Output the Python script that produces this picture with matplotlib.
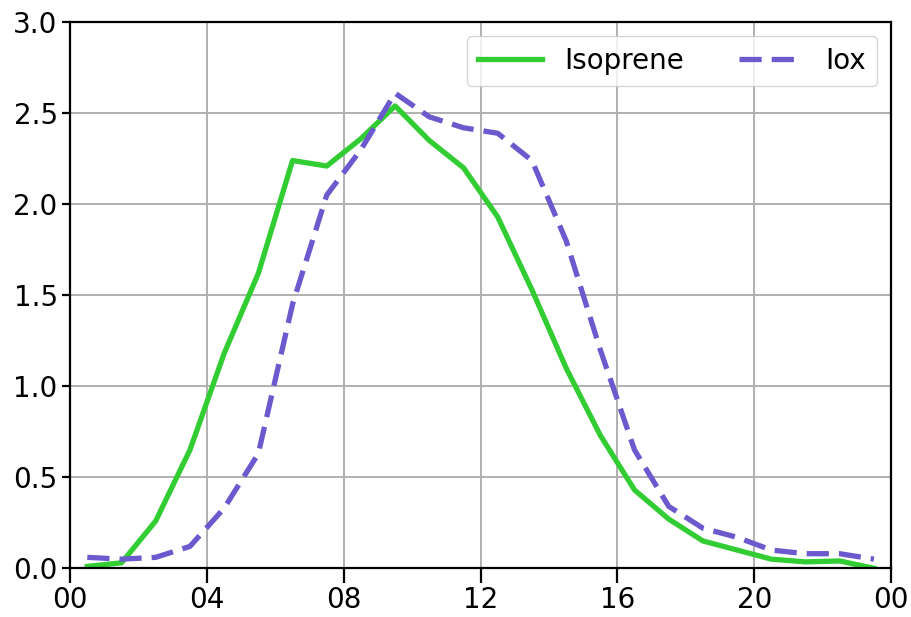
import numpy as np
import matplotlib
matplotlib.use("Agg")
import matplotlib.pyplot as plt

# Hourly means, plotted at the middle of each hour
hours = np.arange(24) + 0.5
isoprene = [0.01, 0.03, 0.26, 0.65, 1.18, 1.62, 2.24, 2.21, 2.36, 2.54, 2.35, 2.20,
            1.93, 1.53, 1.10, 0.73, 0.43, 0.27, 0.15, 0.10, 0.05, 0.035, 0.04, 0.0]
iox = [0.06, 0.05, 0.06, 0.12, 0.33, 0.63, 1.45, 2.05, 2.30, 2.61, 2.48, 2.42,
       2.39, 2.24, 1.80, 1.20, 0.65, 0.34, 0.22, 0.17, 0.10, 0.08, 0.08, 0.05]

tick_pos = [0, 4, 8, 12, 16, 20, 24]
tick_labels = ["00", "04", "08", "12", "16", "20", "00"]

fig = plt.figure(figsize=(9.12, 6.17), dpi=100)
ax = fig.add_axes([0.077, 0.079, 0.900, 0.885])

ax.plot(hours, isoprene, color="limegreen", lw=3.8, label="Isoprene")
ax.plot(hours, iox, color="slateblue", lw=3.8, ls="--", dashes=(4.2, 1.9), label="Iox")

ax.set_xlim(0, 24)
ax.set_ylim(0, 3.0)
ax.set_xticks(tick_pos)
ax.set_xticklabels(tick_labels)
ax.set_yticks(np.arange(0, 3.01, 0.5))
ax.tick_params(labelsize=20, width=1.6)
ax.tick_params(axis="x", length=10.5, pad=2.5)
ax.tick_params(axis="y", length=5.5)
for s in ax.spines.values():
    s.set_linewidth(1.6)
ax.grid(True, color="#b0b0b0", lw=1.4)

ax.legend(loc="upper right", ncol=2, fontsize=20, handlelength=2.3)

fig.savefig("out.png", dpi=100)
